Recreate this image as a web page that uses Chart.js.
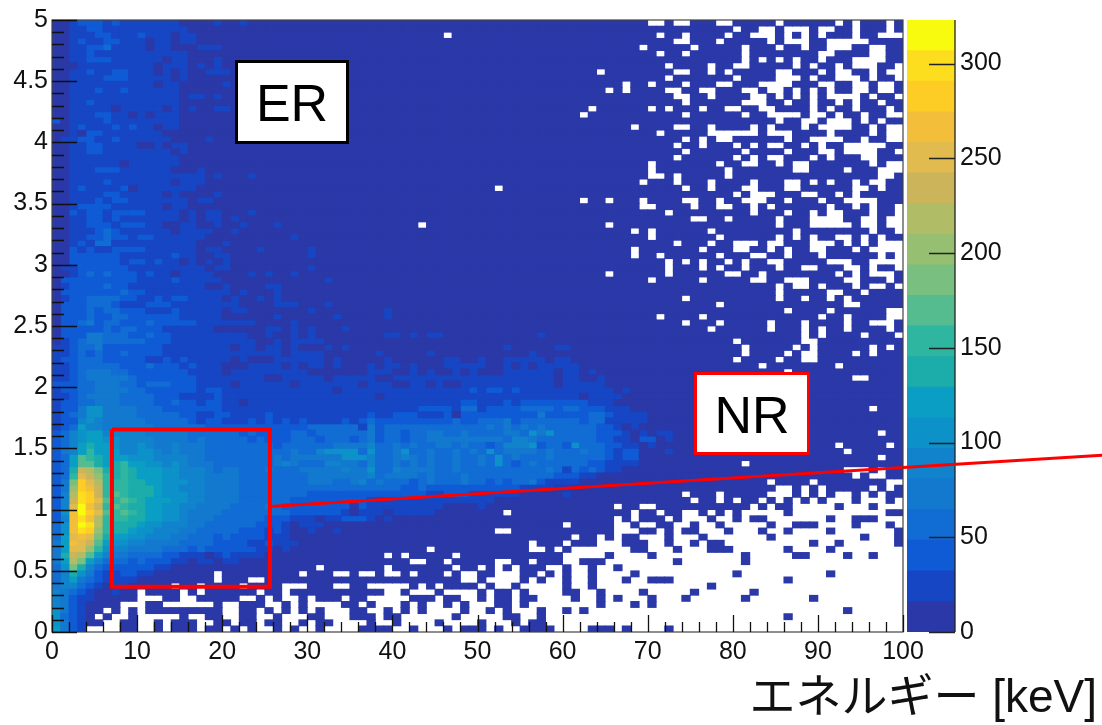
<!DOCTYPE html>
<html>
<head>
<meta charset="utf-8">
<script src="https://cdn.jsdelivr.net/npm/chart.js"></script>
<style>
html, body { margin: 0; padding: 0; background: #fff; }
#wrap { position: relative; width: 1102px; height: 725px; overflow: hidden; }
canvas { position: absolute; left: 0; top: 0; }
.box { position: absolute; box-sizing: border-box; background: #fff; font-family: "Liberation Sans", sans-serif; font-size: 52px; color: #000; text-align: center; }
#erBox { left: 235px; top: 60px; width: 114px; height: 84px; line-height: 80px; border: 3px solid #000; }
#nrBox { left: 694px; top: 372px; width: 116px; height: 83px; line-height: 80px; border: 3px solid #f00; }
#xTitle { position: absolute; right: 5px; top: 668px; font-family: "Liberation Sans", "Noto Sans CJK JP", sans-serif; font-size: 46px; line-height: 56px; color: #111; white-space: nowrap; }
</style>
</head>
<body>
<div id="wrap">
  <canvas id="barCanvas" width="1102" height="725"></canvas>
  <canvas id="mapCanvas" width="1102" height="725"></canvas>
  <div class="box" id="erBox">ER</div>
  <div class="box" id="nrBox">NR</div>
  <div id="xTitle">エネルギー [keV]</div>
</div>
<script>
const xTickLabels = ["0", "10", "20", "30", "40", "50", "60", "70", "80", "90", "100"];
const yTickLabels = ["0", "0.5", "1", "1.5", "2", "2.5", "3", "3.5", "4", "4.5", "5"];
const barTickLabels = ["0", "50", "100", "150", "200", "250", "300"];
const barMax = 323;

// palette bottom to top, 20 contours
const paletteColors = [
    "#2a38a8", "#1646c4", "#0f5bd6", "#116dd4", "#1279cf",
    "#1183cc", "#0c91c9", "#0a9ec4", "#1cadaa", "#2fb6a0",
    "#55bc90", "#78bf80", "#96bf72", "#b1bd66", "#ccb45a",
    "#e1bb4e", "#f3bf3b", "#fecd25", "#fcde1e", "#f9fb0e"
];

// contour index per bin (base 20), row 0 is the top row (y 4.95-5), missing columns are 0
const levelRows = [
"0012221211 1111100001 0010000000",
"0011221111 1111110000",
"0011122111 2111011000",
"0012112211 1011011000",
"0011223111 1011000111",
"0011211111 1111110000",
"0011222111 1110110001",
"0001111111 1101110101",
"0011211221 1101010011 1",
"0011112221 1111010000",
"0011111111 1101100000 1",
"0011121121 1111100000",
"0011111111 1111101101",
"0011211111 1111100000",
"0011111011 1110101001 1",
"0011122110 1011100000",
"2011112111 1111100000",
"0012111212 1101100000",
"0010221111 1110000000",
"0112211211 1111000010",
"0011221111 0010110000",
"0011221111 1111010000",
"0011111111 1111100000",
"0011111101 1111100000",
"0011122211 1111000100",
"0011111111 1111111101 0001000000",
"0011112111 1111011100",
"0012111120 1111111000",
"0011112211 1110100001",
"0011121221 1111110110",
"0012222111 1110110000",
"0021221222 2111101011 0001000000",
"0011221211 1111101011 0100000000",
"0011222122 2110011001 0010001000",
"0011123211 1111011110 0100000000",
"0011223221 2211111100 0000000010",
"0012133111 1111111000 1000000000",
"0021211222 2111111011 0000100000 1",
"0022222211 1111211001 1000000000 1",
"0022222212 2121101010 1",
"0112222221 1111111101 1000000000 1",
"0012323222 1211011110 0001010010",
"0222222222 1111211111 0000000000 001",
"0122223221 1111111100 1000011000",
"0222222232 2111111111 1010001000",
"0122333322 1121221111 0100101000",
"0222333211 1222111111 1100001110 001",
"0222323322 2111211111 0110000000 1000000001",
"0222322332 2222211111 0000001000 0001000001",
"0223423322 2322222111 1111000010 0000000000",
"0222223233 2221111110 0000011010 1000100000",
"0222443332 2322111111 1110010010 1000000001 1010110000 0000000100",
"0123443333 3222111111 1111001011 1100000000",
"1123342222 2221111111 1011011010 0010100000 0000000000 0001000001 1",
"1123232232 2221111111 1111111011 1100000010 0000100000 0000001000",
"1223332222 2112121111 1010001111 1101000001 0000001100 1001111101 1",
"1123333322 2322212111 0001111010 1101000101 1010001111 1001010111 11",
"1123444332 2222221111 0111111111 0000000111 0010100101 0001111110 1101",
"1123444443 2222222111 1111100111 1101111100 1111111111 1111111110 1100100000",
"2223344433 2333222111 1011111101 1111110111 0011010011 1111111110 1111100000",
"1223344443 3222222122 1111111111 1110111111 1111111112 1221211111 1111110100",
"1123444433 3322211112 1111111111 1111111101 1111111111 1111111111 1101111000",
"1223344433 3322322122 1101111111 1111111111 1111111122 1112122222 2221110000",
"1224664444 3332222222 1111111111 1111111111 1112222133 1222233332 3322211100",
"1234664444 3333322112 2111121111 1111111211 2221112022 2222222422 2223321111",
"1225654444 4333332122 1112121212 1111212322 2222222322 3334233333 3323311111",
"1237554444 4433333322 2222222222 3333331423 3333333333 3434343433 3333221010",
"2356775555 5444443333 3323222233 2333333423 3233443343 3334436463 3333222101 011",
"2356776655 5544443433 3332322233 3233323423 3233444444 4443554333 3333221102 201",
"2357877655 6544544433 3333332333 3334444533 4343344343 3235556233 2633322110 1",
"2457977755 6654544433 3333333343 3566663633 4633433434 3634444343 3343321220 001",
"237a987776 6655554433 3333334344 4444666533 4543433433 4363433343 3333321220",
"237aa87897 7665654443 3333334543 3355443533 4343433433 4363234333 3332211110",
"238edb8898 7776655543 4433343334 4444544633 5444433433 3333333343 1323211000",
"239fec9898 7776655544 4433333333 4444444534 4443433343 3333333332 2211000000",
"24bhfd9998 8776665544 4433333333 4443345343 3323433343 3232334211 1100000000",
"24chge9998 8876655544 4433333333 3333333333 3223222222 2222211110",
"25dihe9a98 8876665544 4433333333 2222222222 2222112221 1111100000 1",
"25eihfa9a9 8777665544 4433333322 2222222111 1111111111 1100000000",
"25fjge9a98 8776655444 4333343222 2222202111 1111110000 1",
"26gjhfa9a9 8776654444 3333333322 2222101110 1111100000",
"25gigd9998 8776654443 3333322211 1011222101",
"36gjid9888 7665554433 3333222101 1100",
"36gihc9887 6655544333 3322212100 1001",
"37fgfb8776 6555443332 3222211100",
"47gfea7665 5444433332 2221121110",
"47ffc96554 4443332322 2222110100",
"48eda75443 3332211101 2111100000",
"47db753332 3222110110 1100000000",
"36b8532222 2211000000",
"3586421122 1100000000",
"3574321111",
"4553210110",
"5432100100",
"5421100000",
"5421000000",
"6421",
"6321",
"6421",
"7421"
];

// bins with no entries, column numbers per row, row 0 on top
const emptyRows = [
"70-71 73-74 78-79 85 92 94 98",
"80 83-84 86-88 90-91 94 98",
"46 71 74 79 82-84 86 88 90 94 97-99",
"73-74 78 84 86-88 91-95",
"69 75 81 85 88 91-93 96-97",
"71 74 81 90-91 96-97",
"81 83 85 87 90 94-97",
"72 77 80-81 87 89 92 94-96 99",
"64 73-74 77 79 85-86 90 92-93 96 98-99",
"72 80 85-87 89 92-94 96 99",
"67 70 74 78-79 83-86 90-91 94-95 97-98",
"65 67 72-73 76-77 81-82 84-85 87 89 91 94-95 97-98",
"73-74 77 82-83 85 87 89 91-94 96 99",
"74 81-83 86 89 92 94 97",
"63 70 72 76 79-80 83-84 89 91 94 98",
"62 74 81 84-87 89-90 92 95 98-99",
"85 88-89 91-93 95 97",
"68 73-74 77 82 84 88 90-93 96 98-99",
"71 77-82 84-86 91 96 98-99",
"74 76 78-79 86 89-92 95 98-99",
"73 76 80 82 84-85 88 90 93-97",
"74 81 86 90-91 93-96 99",
"73 80 82 84-85 89 91 95-96",
"70 78 81-82 85 87-88 96 98-99",
"70 79 87-88 93 97-99",
"70-71 73 79 97-98",
"69 73 77 82 86-87 89 91 94 96-97",
"52 74 77 81-82 86-87 94-95 97",
"80 82-84 88-89 92 94",
"62 65 69 74-75 78 81-83 86 90 93-96",
"69-70 75 78-79 82 84 91 94 96 99",
"72 82 86 89 91-92 96 99",
"75-76 79 85 89-92 95-96 98-99",
"43 65 85 89-93 95-96 98-99",
"68 70 77 87 96 99",
"70 78 85 87 89 92-93 95 97",
"73 77 80-82 84-85 89-91 93 95 97-99",
"68 76 80-81 84 86 89-90 94 96-99",
"68 71 78 82-83 86 90 97 99",
"72 74 76 79 81 84-85 91-93 96-99",
"72 76 78 81 85 88-89 93-94 96 99",
"65 72 79-80 83 92 94 96-98",
"70 76 82-83 86-88 93-94 98",
"85 87-88 90 94 96-97 99",
"85 91-92 95",
"74 85 88 91 93",
"78 93-94",
"86 91 98-99",
"71 76 90 93 98-99",
"74 78 84 88 93 96-98",
"77 84 88 90 93 98",
"88 90 95 99",
"80 88-89",
"81 87 89 96 98",
"81 86 88-89 94 96",
"80 85 88-89",
"83 92",
"86",
"94-95",
"", "", "", "",
"96",
"", "", "",
"97",
"",
"92 98",
"93",
"97",
"81",
"93-95 97",
"94 96-97",
"84 89 98-99",
"85-86 88 90 96 98",
"74 78 84-86 88 90 92-93 95 97",
"75 78 80 83 85 87 89 91-93 95-97 99",
"66 69-70 82 84 87-91 93-95 97-99",
"53 68 71 74-75 77 79 81-85 87-97",
"66 68 72 74-76 78-79 81 84-90 92-93 97-99",
"60 66-67 69-70 73-74 76-77 79-83 85-86 90-93 95-97 99",
"52-53 66-68 71 73 76-78 80-82 84-85 87-90 92-98",
"61 64 66 69-71 73-75 77-83 85-94 96-98",
"56 60 64-66 70-71 73-74 76 79-88 90-91 93-98",
"44 56-57 59 61-66 67 70-72 74-76 80-85 87-90 92-99",
"39 41 47 60-64 66-69 71-80 82-86 89-92 94-95 97-99",
"42-43 46 52-53 56 60-61 65-72 74-80 82-99",
"31 39 47 50 52 54 58-59 61-62 64-65 67-99",
"19 29 33-34 36-37 39-40 42 46 48-49 52-54 57 59 61-62 64-67 69-79 81-90 92-99",
"19 23-24 48-49 51-54 56 58-59 61-62 64-66 68-69 73-85 87-99",
"14 17 22 27-29 33-34 37-41 43 45 50 52-53 55-59 61-62 64-76 78-99",
"10 15 17 24 27 39-40 42-44 46-49 51 54 56-59 62-63 65-68 70-74 76-81 83-99",
"10-12 15-16 22-23 25 27-28 30 34 37-41 45 48-49 51 54 57-60 62-63 65 67-69 71-73 75-80 82-88 90-99",
"8-10 13-18 20-21 25-26 28 30-33 36 38-40 42 44-45 47 49-51 54 56-63 65-67 69 71-99",
"6 8 10 20-21 24 26 28 30 32-34 37-38 40 42 44-47 49-50 52 54-56 58-59 61 63-92 94-99",
"5 7-8 10-14 16-17 20-21 24-25 27-29 32-34 38 41-46 48-52 55-56 58-85 87-99",
"6-7 10-11 13 17-18 21 24 27-28 30 33-36 38-39 41-44 46-49 51-53 55 58-99",
"4-7 10-11 13 17 20 22 24-25 27 29-30 32-35 40-41 43-45 47 51 53-54 59-62 66 68-71 73-99"
];

// bins run 0-100 keV and 0-5 in 100 steps
const xBins = 100;
const yBins = 100;

// red box and the leader line, in data units
const boxPoints = [{x: 7.05, y: 1.655}, {x: 25.6, y: 1.655}, {x: 25.6, y: 0.37}, {x: 7.05, y: 0.37}, {x: 7.05, y: 1.655}];
const leaderPoints = [{x: 25.6, y: 1.025}, {x: 123.4, y: 1.445}];

function parseEmpty(text) {
    const cols = new Set();
    text.split(" ").filter(Boolean).forEach(part => {
        const ends = part.split("-").map(Number);
        const last = ends.length > 1 ? ends[1] : ends[0];
        for (let c = ends[0]; c <= last; c++) cols.add(c);
    });
    return cols;
}

// one bar dataset per contour, each bin is a floating bar
const cellData = paletteColors.map(() => []);
levelRows.forEach((text, r) => {
    const row = text.replace(/ /g, "");
    const empty = parseEmpty(emptyRows[r] || "");
    const top = 5 - r * 5 / yBins;
    for (let c = 0; c < xBins; c++) {
        if (empty.has(c)) continue;
        const level = c < row.length ? parseInt(row[c], 20) : 0;
        cellData[level].push({x: c + 0.5, y: [top - 5 / yBins, top]});
    }
});

const tickColor = "#111";
const labelFont = {family: "'Liberation Sans', sans-serif", size: 25};

// ROOT style frame with ticks pointing into the pad
const mapFrame = {
    id: "mapFrame",
    afterDatasetsDraw(chart) {
        const {ctx, chartArea: a, scales: {x, y}} = chart;
        ctx.save();
        ctx.strokeStyle = "#444";
        ctx.lineWidth = 1.2;
        ctx.strokeRect(a.left, a.top, a.right - a.left, a.bottom - a.top);
        ctx.strokeStyle = tickColor;
        ctx.lineWidth = 1.3;
        ctx.beginPath();
        for (let i = 0; i <= 50; i++) {
            const px = Math.round(x.getPixelForValue(i * 2)) + 0.5;
            ctx.moveTo(px, a.bottom);
            ctx.lineTo(px, a.bottom - (i % 5 === 0 ? 17 : 10));
            const py = Math.round(y.getPixelForValue(i * 0.1)) + 0.5;
            ctx.moveTo(a.left, py);
            ctx.lineTo(a.left + (i % 5 === 0 ? 25 : 12), py);
        }
        ctx.stroke();
        ctx.restore();
    }
};

const barFrame = {
    id: "barFrame",
    afterDatasetsDraw(chart) {
        const {ctx, chartArea: a, scales: {y}} = chart;
        ctx.save();
        ctx.strokeStyle = "#222";
        ctx.lineWidth = 1.3;
        ctx.beginPath();
        ctx.moveTo(a.right, a.top);
        ctx.lineTo(a.right, a.bottom);
        barTickLabels.forEach(label => {
            const py = Math.round(y.getPixelForValue(Number(label))) + 0.5;
            ctx.moveTo(a.right, py);
            ctx.lineTo(a.right - 26, py);
        });
        ctx.stroke();
        ctx.restore();
    }
};

new Chart(document.getElementById("barCanvas"), {
    type: "bar",
    data: {
        labels: ["z"],
        datasets: paletteColors.map((color, i) => ({
            data: [[i * barMax / 20, (i + 1) * barMax / 20]],
            backgroundColor: color,
            stack: "z",
            barPercentage: 1,
            categoryPercentage: 1,
            inflateAmount: 0.4
        }))
    },
    options: {
        responsive: false,
        animation: false,
        events: [],
        layout: {padding: {left: 907, top: 20, bottom: 93, right: 0}},
        plugins: {legend: {display: false}, tooltip: {enabled: false}},
        scales: {
            x: {display: false, stacked: true},
            y: {
                position: "right",
                stacked: false,
                min: 0,
                max: barMax,
                afterFit: s => { s.width = 147; },
                grid: {display: false, drawTicks: false},
                border: {display: false},
                ticks: {
                    stepSize: 50,
                    padding: 5,
                    color: tickColor,
                    font: labelFont,
                    callback: (v, i) => barTickLabels[i]
                }
            }
        }
    },
    plugins: [barFrame]
});

const cellSets = paletteColors.map((color, i) => ({
    type: "bar",
    data: cellData[i],
    backgroundColor: color,
    stack: "cells",
    barPercentage: 1,
    categoryPercentage: 1,
    inflateAmount: 0.4,
    order: 2
}));

const redLine = (points, width) => ({
    type: "scatter",
    data: points,
    showLine: true,
    borderColor: "#f00",
    borderWidth: width,
    borderJoinStyle: "miter",
    pointRadius: 0,
    clip: false,
    order: 1
});

new Chart(document.getElementById("mapCanvas"), {
    type: "bar",
    data: {datasets: [...cellSets, redLine(boxPoints, 4), redLine(leaderPoints, 3)]},
    options: {
        responsive: false,
        animation: false,
        events: [],
        layout: {padding: {left: 0, top: 20, right: 199, bottom: 0}},
        plugins: {legend: {display: false}, tooltip: {enabled: false}},
        scales: {
            x: {
                type: "linear",
                stacked: true,
                offset: false,
                min: 0,
                max: 100,
                afterFit: s => { s.height = 93; },
                grid: {display: false, drawTicks: false},
                border: {display: false},
                ticks: {
                    stepSize: 10,
                    maxRotation: 0,
                    padding: 5,
                    color: tickColor,
                    font: labelFont,
                    callback: (v, i) => xTickLabels[i]
                }
            },
            y: {
                stacked: false,
                min: 0,
                max: 5,
                afterFit: s => { s.width = 52; },
                grid: {display: false, drawTicks: false},
                border: {display: false},
                ticks: {
                    stepSize: 0.5,
                    padding: 4,
                    color: tickColor,
                    font: labelFont,
                    callback: (v, i) => yTickLabels[i]
                }
            }
        }
    },
    plugins: [mapFrame]
});
</script>
</body>
</html>
